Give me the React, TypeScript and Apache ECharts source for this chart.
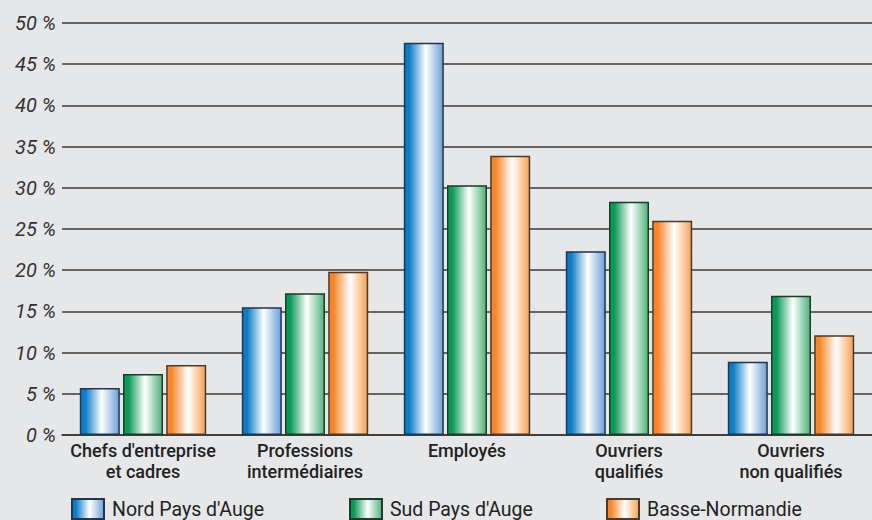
import React, { useEffect, useRef } from "react";
import * as echarts from "echarts";

const categories = [
  "Chefs d'entreprise\net cadres",
  "Professions\nintermédiaires",
  "Employés",
  "Ouvriers\nqualifiés",
  "Ouvriers\nnon qualifiés",
];
const seriesNames = ["Nord Pays d'Auge", "Sud Pays d'Auge", "Basse-Normandie"];
const nordValues = [5.7, 15.5, 47.6, 22.3, 8.9];
const sudValues = [7.4, 17.2, 30.3, 28.3, 16.9];
const basseValues = [8.5, 19.8, 33.9, 26.0, 12.1];
const yTicks = [0, 5, 10, 15, 20, 25, 30, 35, 40, 45, 50];

const FONT = "Roboto, 'Liberation Sans', sans-serif";

function grad(dark: string, right: string) {
  return new echarts.graphic.LinearGradient(0, 0, 1, 0, [
    { offset: 0, color: dark },
    { offset: 0.12, color: dark },
    { offset: 0.55, color: "#ffffff" },
    { offset: 1, color: right },
  ]);
}

export default function App() {
  const ref = useRef<HTMLDivElement>(null);
  useEffect(() => {
    if (!ref.current) return;
    const chart = echarts.init(ref.current, undefined, { renderer: "svg" });
    const colors = [
      { fill: grad("#0c7cc6", "#6d9fd8"), border: "#1f3550" },
      { fill: grad("#0a9a55", "#4db27a"), border: "#1d3a2a" },
      { fill: grad("#f7862a", "#f7a253"), border: "#4a3a2a" },
    ];
    const dataSets = [nordValues, sudValues, basseValues];
    const legendLefts = [71, 349, 606];
    chart.setOption({
      animation: false,
      backgroundColor: "#e6e7e9",
      textStyle: { fontFamily: FONT },
      grid: { left: 62, right: -6, top: 23, bottom: 85, containLabel: false },
      legend: seriesNames.map((n, i) => ({
        data: [n],
        left: legendLefts[i],
        top: 498,
        icon: "rect",
        itemWidth: 32,
        itemHeight: 20,
        padding: 0,
        textStyle: { fontSize: 19.5, color: "#222", fontFamily: FONT, padding: [0, 0, 0, 3] },
      })),
      xAxis: {
        type: "category",
        data: categories,
        axisLine: { lineStyle: { color: "#333", width: 1.5 } },
        axisTick: { show: false },
        axisLabel: {
          fontSize: 18,
          fontWeight: 500,
          lineHeight: 21,
          color: "#222",
          margin: 5,
          fontFamily: FONT,
          interval: 0,
        },
      },
      yAxis: {
        type: "value",
        min: yTicks[0],
        max: yTicks[yTicks.length - 1],
        interval: 5,
        axisLine: { show: false },
        axisTick: { show: false },
        axisLabel: {
          formatter: (v: number) => `${v} %`,
          fontSize: 20,
          fontStyle: "italic",
          color: "#333",
          margin: 6,
          fontFamily: FONT,
          padding: [3, 0, 0, 0],
        },
        splitLine: { lineStyle: { color: "#3a3a3a", width: 1.5 } },
      },
      series: seriesNames.map((n, i) => ({
        name: n,
        type: "bar",
        data: dataSets[i],
        barWidth: 40,
        barGap: "8%",
        itemStyle: {
          color: colors[i].fill,
          borderColor: colors[i].border,
          borderWidth: 1.5,
        },
      })),
    });
    return () => chart.dispose();
  }, []);
  return (
    <div
      ref={ref}
      style={{ position: "fixed", left: 0, top: 0, width: 872, height: 520 }}
    />
  );
}
